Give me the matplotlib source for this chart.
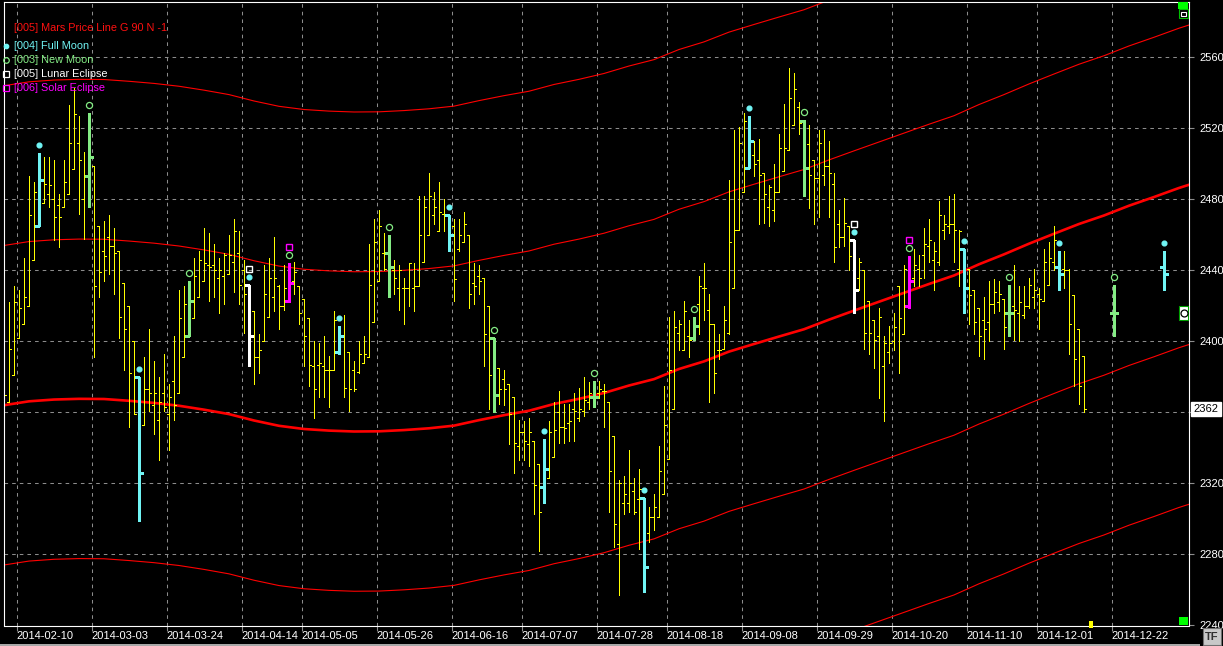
import matplotlib
matplotlib.use("Agg")
import matplotlib.pyplot as plt
from matplotlib.transforms import offset_copy
from matplotlib.patches import Rectangle
from matplotlib.lines import Line2D
from matplotlib.collections import LineCollection

plt.rcParams['font.family'] = ['Liberation Sans', 'DejaVu Sans']
plt.rcParams['lines.scale_dashes'] = False

# ---------------- data ----------------
opens = [2362, 2366, 2381, 2402, 2410, 2420, 2446, 2465, 2478, 2483,
         2480, 2477, 2476, 2483, 2497, 2512, 2480, 2493, 2499, 2465,
         2451, 2459, 2454, 2451, 2433, 2420, 2400, 2380, 2353, 2373,
         2364, 2356, 2371, 2359, 2378, 2371, 2391, 2403, 2413, 2425,
         2434, 2443, 2443, 2436, 2437, 2438, 2445, 2450, 2440, 2432,
         2417, 2391, 2400, 2414, 2425, 2431, 2420, 2423, 2434, 2431,
         2424, 2413, 2386, 2387, 2386, 2384, 2384, 2394, 2403, 2394,
         2384, 2383, 2388, 2391, 2411, 2434, 2450, 2450, 2440, 2430,
         2430, 2430, 2430, 2431, 2445, 2460, 2471, 2462, 2472, 2471,
         2465, 2452, 2456, 2460, 2433, 2437, 2436, 2420, 2402, 2385,
         2379, 2376, 2369, 2341, 2349, 2342, 2344, 2331, 2318, 2323,
         2335, 2360, 2352, 2354, 2362, 2357, 2361, 2366, 2369, 2371,
         2372, 2366, 2347, 2286, 2309, 2309, 2316, 2311, 2312, 2292,
         2301, 2301, 2314, 2334, 2362, 2405, 2395, 2403, 2402, 2421,
         2430, 2418, 2410, 2395, 2396, 2405, 2430, 2463, 2484, 2498,
         2505, 2502, 2495, 2476, 2474, 2484, 2496, 2508, 2522, 2532,
         2524, 2511, 2502, 2492, 2494, 2499, 2489, 2466, 2459, 2465,
         2457, 2436, 2440, 2423, 2412, 2403, 2386, 2394, 2400, 2431,
         2404, 2420, 2436, 2441, 2449, 2454, 2446, 2445, 2463, 2465,
         2466, 2441, 2452, 2441, 2429, 2419, 2412, 2411, 2421, 2422,
         2424, 2416, 2420, 2416, 2415, 2420, 2425, 2427, 2423, 2432,
         2445, 2442, 2441, 2440, 2426, 2407, 2392]
highs = [2382, 2422, 2431, 2429, 2447, 2493, 2490, 2506, 2504, 2504,
         2502, 2483, 2502, 2533, 2543, 2527, 2507, 2529, 2499, 2465,
         2468, 2471, 2464, 2451, 2433, 2420, 2400, 2380, 2391, 2407,
         2389, 2380, 2393, 2376, 2403, 2429, 2431, 2434, 2447, 2451,
         2464, 2461, 2455, 2447, 2450, 2460, 2469, 2462, 2446, 2432,
         2417, 2404, 2443, 2447, 2459, 2432, 2443, 2444, 2445, 2431,
         2424, 2413, 2400, 2399, 2403, 2392, 2417, 2409, 2415, 2394,
         2389, 2400, 2403, 2455, 2469, 2474, 2461, 2460, 2446, 2443,
         2436, 2444, 2444, 2482, 2482, 2495, 2484, 2490, 2480, 2471,
         2469, 2469, 2473, 2460, 2444, 2443, 2436, 2420, 2402, 2385,
         2384, 2376, 2369, 2356, 2355, 2357, 2344, 2331, 2345, 2355,
         2366, 2372, 2365, 2365, 2371, 2374, 2380, 2377, 2378, 2378,
         2376, 2366, 2347, 2322, 2324, 2339, 2323, 2328, 2312, 2307,
         2314, 2341, 2375, 2414, 2417, 2412, 2423, 2412, 2414, 2437,
         2444, 2427, 2410, 2404, 2420, 2491, 2519, 2521, 2529, 2527,
         2513, 2514, 2495, 2488, 2500, 2517, 2534, 2554, 2551, 2535,
         2525, 2522, 2502, 2519, 2519, 2513, 2495, 2474, 2481, 2465,
         2457, 2447, 2440, 2423, 2412, 2419, 2403, 2409, 2416, 2431,
         2443, 2448, 2452, 2449, 2464, 2469, 2456, 2479, 2471, 2482,
         2483, 2463, 2452, 2441, 2429, 2419, 2425, 2434, 2435, 2434,
         2424, 2432, 2443, 2431, 2431, 2436, 2441, 2430, 2452, 2456,
         2465, 2451, 2451, 2441, 2426, 2407, 2392]
lows = [2356, 2366, 2381, 2402, 2410, 2420, 2446, 2465, 2478, 2476,
        2457, 2453, 2476, 2483, 2497, 2472, 2458, 2476, 2391, 2425,
        2434, 2438, 2427, 2402, 2384, 2352, 2359, 2299, 2353, 2361,
        2348, 2333, 2361, 2339, 2356, 2371, 2391, 2403, 2413, 2425,
        2434, 2423, 2425, 2416, 2421, 2438, 2428, 2421, 2405, 2386,
        2376, 2382, 2400, 2414, 2417, 2407, 2418, 2422, 2427, 2410,
        2386, 2375, 2357, 2369, 2369, 2363, 2384, 2393, 2369, 2361,
        2372, 2382, 2388, 2391, 2411, 2434, 2440, 2425, 2427, 2418,
        2410, 2420, 2417, 2431, 2445, 2460, 2466, 2462, 2462, 2451,
        2423, 2451, 2456, 2419, 2421, 2427, 2386, 2362, 2360, 2365,
        2364, 2342, 2326, 2333, 2333, 2330, 2303, 2282, 2309, 2323,
        2335, 2343, 2343, 2344, 2344, 2355, 2358, 2362, 2363, 2368,
        2352, 2304, 2284, 2257, 2303, 2304, 2303, 2283, 2259, 2287,
        2294, 2301, 2314, 2334, 2362, 2395, 2395, 2391, 2401, 2404,
        2412, 2366, 2371, 2390, 2396, 2404, 2430, 2463, 2484, 2498,
        2493, 2466, 2467, 2465, 2468, 2484, 2496, 2508, 2522, 2517,
        2482, 2475, 2466, 2470, 2488, 2470, 2445, 2453, 2454, 2440,
        2416, 2429, 2396, 2393, 2385, 2368, 2355, 2388, 2395, 2382,
        2404, 2419, 2431, 2431, 2436, 2445, 2429, 2443, 2458, 2461,
        2445, 2431, 2416, 2410, 2404, 2392, 2390, 2400, 2416, 2417,
        2396, 2403, 2401, 2400, 2413, 2419, 2419, 2407, 2423, 2432,
        2440, 2429, 2430, 2393, 2375, 2365, 2360]
closes = [2370, 2396, 2422, 2419, 2425, 2471, 2484, 2491, 2489, 2488,
          2470, 2470, 2490, 2512, 2528, 2502, 2494, 2504, 2431, 2439,
          2448, 2454, 2450, 2414, 2407, 2382, 2359, 2326, 2373, 2371,
          2371, 2366, 2363, 2369, 2364, 2413, 2421, 2423, 2437, 2446,
          2444, 2442, 2440, 2440, 2449, 2449, 2462, 2432, 2427, 2403,
          2391, 2395, 2427, 2436, 2436, 2420, 2430, 2433, 2439, 2416,
          2403, 2387, 2373, 2388, 2384, 2384, 2412, 2403, 2374, 2373,
          2373, 2393, 2393, 2432, 2456, 2465, 2441, 2442, 2436, 2440,
          2430, 2444, 2431, 2460, 2476, 2482, 2476, 2473, 2472, 2460,
          2435, 2460, 2466, 2427, 2431, 2434, 2404, 2381, 2370, 2373,
          2373, 2359, 2343, 2349, 2344, 2349, 2319, 2304, 2328, 2349,
          2350, 2352, 2351, 2355, 2361, 2362, 2367, 2371, 2369, 2373,
          2372, 2327, 2297, 2320, 2314, 2320, 2304, 2317, 2273, 2301,
          2307, 2327, 2353, 2384, 2408, 2410, 2417, 2401, 2409, 2431,
          2430, 2410, 2382, 2395, 2412, 2456, 2463, 2512, 2524, 2513,
          2500, 2494, 2483, 2487, 2484, 2509, 2509, 2537, 2542, 2523,
          2498, 2494, 2492, 2512, 2499, 2495, 2453, 2459, 2467, 2448,
          2429, 2445, 2405, 2405, 2401, 2414, 2399, 2399, 2408, 2413,
          2441, 2434, 2443, 2436, 2455, 2457, 2451, 2471, 2466, 2466,
          2463, 2462, 2430, 2426, 2411, 2403, 2407, 2421, 2428, 2427,
          2408, 2416, 2418, 2422, 2420, 2432, 2429, 2424, 2445, 2447,
          2457, 2438, 2440, 2410, 2390, 2375, 2362]

full_moon_idx = [7, 27, 49, 67, 89, 108, 128, 149, 170, 192, 211]
new_moon_idx = [17, 37, 57, 77, 98, 118, 138, 160, 181, 201]
lunar_eclipse_idx = [49, 170]
solar_eclipse_idx = [57, 181]

# projected (future) moon-event bars
proj_idx = [222, 232]
proj_kind = ['new', 'full']
proj_open = [2416, 2442]
proj_high = [2432, 2451]
proj_low = [2403, 2429]
proj_close = [2416, 2438]

# Mars price line (base curve) and its 90-point harmonics
mars_idx = [0, 5, 10, 15, 20, 25, 30, 35, 40, 45, 50, 55, 60, 65, 70, 75,
            80, 85, 90, 95, 100, 105, 110, 115, 120, 125, 130, 135, 140,
            145, 150, 155, 160, 165, 170, 175, 180, 185, 190, 195, 200,
            205, 210, 215, 220, 225, 230, 235, 237]
mars_base = [2364.1, 2366.3, 2367.3, 2367.7, 2367.6, 2366.6, 2365.4, 2363.8,
             2361.6, 2359.1, 2355.5, 2352.5, 2350.7, 2349.8, 2349.3, 2349.4,
             2350.1, 2351.1, 2352.6, 2355.7, 2358.5, 2361.0, 2364.8, 2367.7,
             2371.0, 2375.2, 2378.8, 2384.5, 2388.8, 2394.3, 2398.6, 2402.8,
             2406.9, 2412.3, 2417.4, 2422.4, 2427.4, 2432.4, 2437.2, 2443.5,
             2449.1, 2455.1, 2460.7, 2466.2, 2471.0, 2476.5, 2481.4, 2486.5,
             2488.3]
mars_gap = 90
mars_levels = [-2, -1, 0, 1, 2]

date_tick_idx = [3, 18, 33, 48, 60, 75, 90, 104, 119, 133, 148, 163, 178,
                 193, 207, 222]
date_tick_labels = ['2014-02-10', '2014-03-03', '2014-03-24', '2014-04-14',
                    '2014-05-05', '2014-05-26', '2014-06-16', '2014-07-07',
                    '2014-07-28', '2014-08-18', '2014-09-08', '2014-09-29',
                    '2014-10-20', '2014-11-10', '2014-12-01', '2014-12-22']
price_ticks = [2240, 2280, 2320, 2360, 2400, 2440, 2480, 2520, 2560]
last_price = 2362

# ---------------- styles ----------------
YELLOW = '#ffff00'
CYAN = '#70f4f4'
GREEN = '#84ec84'
WHITE = '#ffffff'
MAGENTA = '#ff00ff'
RED = '#ff0000'
GRID = '#8c8c8c'

W, H = 1223, 646
fig = plt.figure(figsize=(W / 100, H / 100), dpi=100, facecolor='black')
ax = fig.add_axes([3.5 / W, (H - 625.5) / H, (1188.5 - 3.5) / W, (625.5 - 2) / H])
ax.set_facecolor('black')
ax.set_xlim(-0.1, 236.9)
ax.set_ylim(2240, 2240 + 623.5 / 1.775)


def fx(x):
    return x / W


def fy(y):
    return 1 - y / H


# grid
for t in price_ticks[1:]:
    ax.axhline(t, color=GRID, lw=0.75, ls=(0, (2.6, 2.9)), zorder=0.5)
for t in date_tick_idx:
    ax.axvline(t - 0.5, color=GRID, lw=0.75, ls=(0, (2.6, 2.9)), zorder=0.5)

# Mars price lines
for k in mars_levels:
    vals = [v + k * mars_gap for v in mars_base]
    ax.plot(mars_idx, vals, color=RED, lw=(1.9 if k == 0 else 0.8),
            zorder=1, solid_joinstyle='miter')


# OHLC bars
def bar_color(i, kind=None):
    if i in solar_eclipse_idx:
        return MAGENTA
    if i in lunar_eclipse_idx:
        return WHITE
    if i in full_moon_idx or kind == 'full':
        return CYAN
    if i in new_moon_idx or kind == 'new':
        return GREEN
    return YELLOW


thin_segs, thick = [], {}
all_bars = [(i, opens[i], highs[i], lows[i], closes[i], None) for i in range(len(opens))]
all_bars += [(proj_idx[j], proj_open[j], proj_high[j], proj_low[j], proj_close[j], proj_kind[j])
             for j in range(len(proj_idx))]
for i, o, h, l, c, kind in all_bars:
    col = bar_color(i, kind)
    if col == YELLOW:
        tl = 0.45
        thin_segs += [[(i, l), (i, h)], [(i - tl, o), (i, o)], [(i, c), (i + tl, c)]]
    else:
        tl = 0.75
        thick.setdefault(col, []).extend(
            [[(i, l), (i, h)], [(i - tl, o), (i, o)], [(i, c), (i + tl, c)]])

ax.add_collection(LineCollection(thin_segs, colors=YELLOW, linewidths=0.55,
                                 antialiaseds=False, zorder=2, capstyle='butt'))
for col, segs in thick.items():
    ax.add_collection(LineCollection(segs, colors=col, linewidths=1.9,
                                     antialiaseds=False, zorder=3, capstyle='butt'))

# event markers above bars
high_of = {i: h for i, o, h, l, c, kind in all_bars}
tr8 = offset_copy(ax.transData, fig=fig, x=0, y=8, units='dots')
tr16 = offset_copy(ax.transData, fig=fig, x=0, y=16, units='dots')
fm = full_moon_idx + [p for p, k in zip(proj_idx, proj_kind) if k == 'full']
nm = new_moon_idx + [p for p, k in zip(proj_idx, proj_kind) if k == 'new']
ax.plot(fm, [high_of[i] for i in fm], ls='none', marker='o', ms=3.4, mfc=CYAN,
        mec=CYAN, transform=tr8, zorder=4, clip_on=False)
ax.plot(nm, [high_of[i] for i in nm], ls='none', marker='o', ms=4.4, mfc='none',
        mec=GREEN, mew=0.9, transform=tr8, zorder=4, clip_on=False)
ax.plot(lunar_eclipse_idx, [high_of[i] for i in lunar_eclipse_idx], ls='none',
        marker='s', ms=4.6, mfc='none', mec=WHITE, mew=1.0, transform=tr16, zorder=4)
ax.plot(solar_eclipse_idx, [high_of[i] for i in solar_eclipse_idx], ls='none',
        marker='s', ms=4.6, mfc='none', mec=MAGENTA, mew=1.0, transform=tr16, zorder=4)

# axes decoration
for s in ax.spines.values():
    s.set_color('white')
    s.set_linewidth(0.8)
ax.set_xticks([t - 0.5 for t in date_tick_idx], date_tick_labels)
for lbl in ax.get_xticklabels():
    lbl.set_horizontalalignment('left')
ax.tick_params(axis='x', colors=GRID, labelcolor='white', length=3.5,
               direction='out', pad=0.5, labelsize=8)
ax.yaxis.tick_right()
# the 2360 label is hidden under the last-price box in the reference
ax.set_yticks(price_ticks, ['' if abs(p - last_price) < 10 else str(p) for p in price_ticks])
ax.tick_params(axis='y', colors=GRID, labelcolor='white', length=3.5,
               direction='out', pad=4.5, labelsize=8)

ax.annotate(str(last_price), xy=(1, last_price), xycoords=('axes fraction', 'data'),
            xytext=(5, 0), textcoords='offset pixels', va='center', ha='left',
            fontsize=8, color='black', zorder=10, annotation_clip=False,
            bbox=dict(boxstyle='square,pad=0.2', fc='white', ec='white'))

# legend (top-left)
fig.text(fx(14), fy(28), '[005] Mars Price Line G 90 N -1', color='#ff1010',
         fontsize=7.8, va='center', ha='left')
legend_items = [('[004] Full Moon', CYAN, 'o', CYAN, 46, 3.2),
                ('[003] New Moon', GREEN, 'o', 'none', 60, 4.0),
                ('[005] Lunar Eclipse', WHITE, 's', 'none', 74, 4.2),
                ('[006] Solar Eclipse', MAGENTA, 's', 'none', 88, 4.2)]
for txt, col, mk, mfc, yy, ms in legend_items:
    fig.text(fx(14), fy(yy), txt, color=col, fontsize=7.8, va='center', ha='left')
    fig.add_artist(Line2D([fx(6)], [fy(yy)], transform=fig.transFigure, marker=mk,
                          ms=ms, mfc=mfc, mec=col, mew=0.9, ls='none'))


# small widgets
def rect(x0, y0, x1, y1, **kw):
    fig.add_artist(Rectangle((fx(x0), fy(y1)), (x1 - x0) / W, (y1 - y0) / H,
                             transform=fig.transFigure, **kw))


rect(1178, 2, 1188, 9, fc='#00ff00', ec='none')
rect(1179, 9.5, 1187.5, 17.5, fc='black', ec='#00c000', lw=0.8)
rect(1181, 11.5, 1185.5, 15.5, fc='none', ec='white', lw=0.8)
rect(1179, 306, 1188, 320, fc='white', ec='#00a000', lw=0.8)
fig.add_artist(Line2D([fx(1183.5)], [fy(313)], transform=fig.transFigure, marker='o',
                      ms=5, mfc='none', mec='black', mew=0.9, ls='none'))
rect(1179, 617, 1188, 625, fc='#00ff00', ec='none')
rect(1089, 621, 1093, 628, fc='#ffff00', ec='none')
rect(0, 643.5, 1200, 646, fc='#a8a8a8', ec='none')
rect(1203, 628, 1221, 645, fc='#c8c8c8', ec='#707070', lw=0.8)
fig.text(fx(1212), fy(636.5), 'TF', color='#303030', fontsize=8, fontweight='bold',
         ha='center', va='center')

fig.savefig('out.png', dpi=100, facecolor='black')
